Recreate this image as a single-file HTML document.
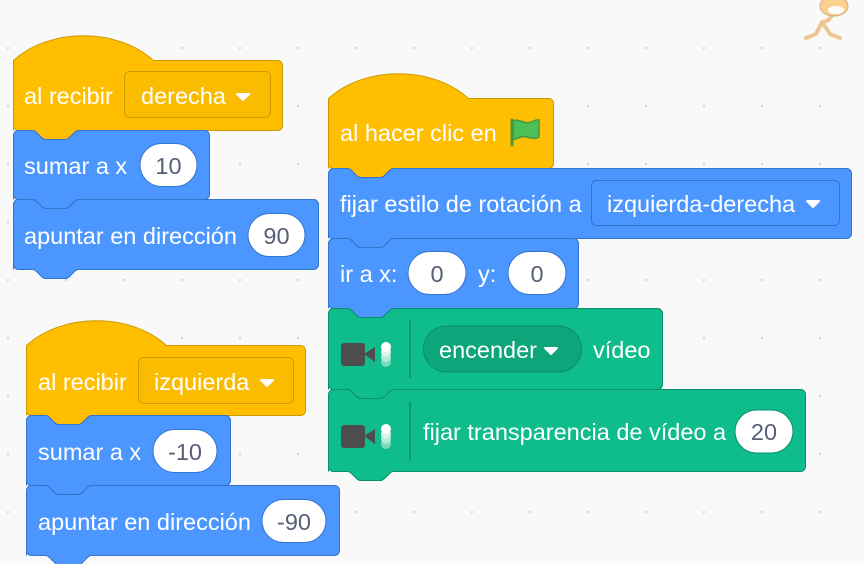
<!DOCTYPE html>
<html><head><meta charset="utf-8"><style>
html,body{margin:0;padding:0;background:#F9F9F9;}
svg{display:block;}
text{font-family:"Liberation Sans",sans-serif;font-size:23.5px;}
.w{fill:#fff;}
.n{fill:#575E75;text-anchor:middle;}
</style></head><body>
<svg id="s" width="864" height="564" viewBox="0 0 864 564" xmlns="http://www.w3.org/2000/svg">
<defs><pattern id="dots" x="7" y="-11" width="58" height="58" patternUnits="userSpaceOnUse"><circle cx="1" cy="1" r="1.2" fill="#D4D4D4"/></pattern></defs>
<rect width="864" height="564" fill="#F9F9F9"/>
<rect width="864" height="564" fill="url(#dots)"/>
<g id="blocks"></g>
<g id="ov">
<rect x="124.5" y="71.5" width="146" height="46" rx="5" fill="#FABC00" stroke="#CC9900"/>
<text x="24" y="104" class="w">al recibir</text>
<text x="141" y="104" class="w">derecha</text>
<path d="M237 94 h12 l-6 6z" fill="#fff" stroke="#fff" stroke-linejoin="round" stroke-width="2"/>
<text x="24" y="174" class="w">sumar a x</text>
<rect x="140" y="143.5" width="57" height="43" rx="21.5" fill="#fff" stroke="#3373CC"/>
<text x="168.5" y="174" class="n">10</text>
<text x="24" y="244" class="w">apuntar en dirección</text>
<rect x="248" y="213.5" width="57" height="43" rx="21.5" fill="#fff" stroke="#3373CC"/>
<text x="276.5" y="244" class="n">90</text>
<rect x="138.5" y="357.5" width="155" height="46" rx="5" fill="#FABC00" stroke="#CC9900"/>
<text x="38" y="390" class="w">al recibir</text>
<text x="154" y="390" class="w">izquierda</text>
<path d="M261 380 h12 l-6 6z" fill="#fff" stroke="#fff" stroke-linejoin="round" stroke-width="2"/>
<text x="38" y="460" class="w">sumar a x</text>
<rect x="153" y="429.5" width="64" height="43" rx="21.5" fill="#fff" stroke="#3373CC"/>
<text x="185" y="460" class="n">-10</text>
<text x="38" y="530" class="w">apuntar en dirección</text>
<rect x="262" y="499.5" width="64" height="43" rx="21.5" fill="#fff" stroke="#3373CC"/>
<text x="294" y="530" class="n">-90</text>
<text x="340" y="141" class="w">al hacer clic en</text>
<path d="M512 120 v25" stroke="#45993D" stroke-width="3" stroke-linecap="round"/>
<path d="M513 121 c6,-3 12,4 18,1 c3,-1 6,-3 8,-2 v17 c-6,4 -12,-2 -18,0 c-3,1 -6,2 -8,3z" fill="#4CBF56" stroke="#45993D" stroke-width="1.5"/>
<text x="340" y="212" class="w">fijar estilo de rotación a</text>
<rect x="591.5" y="180.5" width="248" height="45" rx="5" fill="#4C97FF" stroke="#3373CC"/>
<text x="607" y="212" class="w">izquierda-derecha</text>
<path d="M807 201 h12 l-6 6z" fill="#fff" stroke="#fff" stroke-linejoin="round" stroke-width="2"/>
<text x="340" y="282" class="w">ir a x:</text>
<rect x="408" y="251.5" width="58" height="43" rx="21.5" fill="#fff" stroke="#3373CC"/>
<text x="437" y="282" class="n">0</text>
<text x="478" y="282" class="w">y:</text>
<rect x="508" y="251.5" width="58" height="43" rx="21.5" fill="#fff" stroke="#3373CC"/>
<text x="537" y="282" class="n">0</text>
<g>
<rect x="341" y="343" width="24" height="23" rx="3" fill="#4D4D4D"/>
<path d="M364 354 l11 -7 v15z" fill="#4D4D4D"/>
<circle cx="386" cy="362" r="5" fill="#7DD9BE"/>
<circle cx="386" cy="357" r="5" fill="#B4EBDA"/>
<circle cx="386" cy="352" r="5" fill="#D9F4EC"/>
<circle cx="386" cy="347" r="5" fill="#fff"/>
<path d="M410 320 v58" stroke="#0B8E69" stroke-width="1.5"/>
</g>
<rect x="423.5" y="326" width="158" height="46" rx="23" fill="#0DA57A" stroke="#0B8E69"/>
<text x="439" y="358" class="w">encender</text>
<path d="M545 348 h12 l-6 6z" fill="#fff" stroke="#fff" stroke-linejoin="round" stroke-width="2"/>
<text x="593" y="358" class="w">vídeo</text>
<g transform="translate(0,82)">
<rect x="341" y="343" width="24" height="23" rx="3" fill="#4D4D4D"/>
<path d="M364 354 l11 -7 v15z" fill="#4D4D4D"/>
<circle cx="386" cy="362" r="5" fill="#7DD9BE"/>
<circle cx="386" cy="357" r="5" fill="#B4EBDA"/>
<circle cx="386" cy="352" r="5" fill="#D9F4EC"/>
<circle cx="386" cy="347" r="5" fill="#fff"/>
<path d="M410 320 v58" stroke="#0B8E69" stroke-width="1.5"/>
</g>
<text x="423" y="440" class="w">fijar transparencia de vídeo a</text>
<rect x="735" y="410" width="58" height="43" rx="21.5" fill="#fff" stroke="#0B8E69"/>
<text x="764" y="440" class="n">20</text>
<g opacity="0.55">
<path d="M830 8 c5,8 -2,14 -8,14 l-6,12 l-10,4 M822 22 l8,12 l10,4" stroke="#E0A040" stroke-width="4" fill="none" stroke-linecap="round"/>
<ellipse cx="834" cy="6" rx="14" ry="10" fill="#FFB13B" stroke="#B07020"/>
<ellipse cx="836" cy="10" rx="8" ry="4" fill="#fff"/>
</g>
</g>
</svg>
<script>
function P(x,y,w,h,o){
  o=o||{};var r=5,s='';
  var nx=x+19;
  if(o.hat){
    s+='M'+x+','+(y+h)+' V'+y+' c36,-33 104,-33 140,0 H'+(x+w-r)+' a'+r+','+r+' 0 0 1 '+r+','+r;
  } else {
    s+='M'+x+','+(y+h)+' V'+(y+r)+' a'+r+','+r+' 0 0 1 '+r+','+(-r)+' H'+nx+
      ' c2,0 3,1 4,2 l5,5 c1,1 2,2 4,2 h20 c2,0 3,-1 4,-2 l5,-5 c1,-1 2,-2 4,-2 H'+(x+w-r)+' a'+r+','+r+' 0 0 1 '+r+','+r;
  }
  s+=' V'+(y+h-r)+' a'+r+','+r+' 0 0 1 '+(-r)+','+r+' H'+(nx+46)+
   ' c-2,0 -3,1 -4,2 l-5,5 c-1,1 -2,2 -4,2 h-20 c-2,0 -3,-1 -4,-2 l-5,-5 c-1,-1 -2,-2 -4,-2 H'+(x+r)+' a'+r+','+r+' 0 0 1 '+(-r)+','+(-r)+' Z';
  return s;
}
var Y=['#FFBF00','#CC9900'],B=['#4C97FF','#3373CC'],G=['#0FBD8C','#0B8E69'];
var L=[
 [13.5,60.5,269,70,Y,1],[13.5,130.5,196,69,B],[13.5,199.5,305,70,B],
 [26.5,345.5,279,70,Y,1],[26.5,415.5,204,70,B],[26.5,485.5,313,70,B],
 [328.5,98.5,225,70,Y,1],[328.5,168.5,523,70,B],[328.5,238.5,250,70,B],
 [328.5,308.5,334,81,G],[328.5,389.5,477,82,G]
];
var g=document.getElementById('blocks'),h='';
L.forEach(function(b){h+='<path d="'+P(b[0],b[1],b[2],b[3],{hat:b[5]})+'" fill="'+b[4][0]+'" stroke="'+b[4][1]+'" stroke-width="1"/>';});
g.innerHTML=h;
</script>
</body></html>
